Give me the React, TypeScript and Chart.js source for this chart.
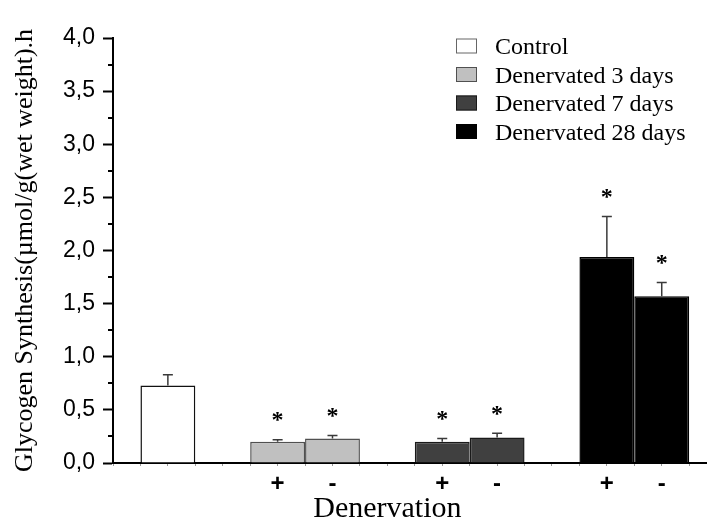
import React, { useEffect, useRef } from 'react';
import { Chart, registerables } from 'chart.js';

Chart.register(...registerables);

// ---- data ----
const seriesNames = ['Control', 'Denervated 3 days', 'Denervated 7 days', 'Denervated 28 days'];
const fillColors = ['#ffffff', '#c0c0c0', '#404040', '#000000'];
const edgeColors = ['#111111', '#505050', '#1a1a1a', '#000000'];

const controlPos = [2];
const controlMean = [0.73];
const controlErr = [0.1];
const controlSig = [false];

const den3Pos = [6, 8];
const den3Mean = [0.2, 0.23];
const den3Err = [0.02, 0.03];
const den3Sig = [true, true];

const den7Pos = [12, 14];
const den7Mean = [0.2, 0.24];
const den7Err = [0.03, 0.04];
const den7Sig = [true, true];

const den28Pos = [18, 20];
const den28Mean = [1.94, 1.57];
const den28Err = [0.38, 0.13];
const den28Sig = [true, true];

const xTickPos = [6, 8, 12, 14, 18, 20];
const xTickText = ['+', '-', '+', '-', '+', '-'];
const xTitle = 'Denervation';
const xTitleCenterValue = 10;
const yTitle = 'Glycogen Synthesis(µmol/g(wet weight).h';
const yMinorTicks = [0.25, 0.75, 1.25, 1.75, 2.25, 2.75, 3.25, 3.75];

const allPos = [controlPos, den3Pos, den7Pos, den28Pos];
const allMean = [controlMean, den3Mean, den7Mean, den28Mean];
const allErr = [controlErr, den3Err, den7Err, den28Err];
const allSig = [controlSig, den3Sig, den7Sig, den28Sig];

const errorBarPlugin = {
  id: 'errorBars',
  afterDatasetsDraw(chart: any) {
    const ctx = chart.ctx;
    const yScale = chart.scales.y;
    chart.data.datasets.forEach((_ds: any, di: number) => {
      const meta = chart.getDatasetMeta(di);
      meta.data.forEach((bar: any, i: number) => {
        const top = yScale.getPixelForValue(allMean[di][i] + allErr[di][i]);
        ctx.save();
        ctx.strokeStyle = '#3a3a3a';
        ctx.lineWidth = 1.5;
        ctx.beginPath();
        ctx.moveTo(bar.x, bar.y);
        ctx.lineTo(bar.x, top);
        ctx.moveTo(bar.x - 5, top);
        ctx.lineTo(bar.x + 5, top);
        ctx.stroke();
        if (allSig[di][i]) {
          ctx.fillStyle = '#000';
          ctx.font = 'bold 24px "Liberation Serif"';
          ctx.textAlign = 'center';
          ctx.textBaseline = 'alphabetic';
          ctx.fillText('*', bar.x, top - 24.5 + 12);
        }
        ctx.restore();
      });
    });
  },
};

const decorPlugin = {
  id: 'decor',
  afterDraw(chart: any) {
    const ctx = chart.ctx;
    const { chartArea } = chart;
    const yScale = chart.scales.y;
    const xScale = chart.scales.x;
    ctx.save();
    // minor y ticks
    ctx.strokeStyle = '#000';
    ctx.lineWidth = 2;
    yMinorTicks.forEach((v) => {
      const y = Math.round(yScale.getPixelForValue(v));
      ctx.beginPath();
      ctx.moveTo(chartArea.left - 5, y);
      ctx.lineTo(chartArea.left, y);
      ctx.stroke();
    });
    // x title
    ctx.fillStyle = '#000';
    ctx.font = '30px "Liberation Serif"';
    ctx.textAlign = 'center';
    ctx.textBaseline = 'alphabetic';
    ctx.fillText(xTitle, xScale.getPixelForValue(xTitleCenterValue), chartArea.bottom + 54);
    // legend
    const x0 = chartArea.right - 251;
    chart.data.datasets.forEach((ds: any, i: number) => {
      const cy = chartArea.top + 8 + i * 28.5;
      ctx.fillStyle = ds.backgroundColor;
      ctx.fillRect(x0, cy - 7.5, 21, 15);
      ctx.strokeStyle = i === 0 ? '#666' : ds.borderColor;
      ctx.lineWidth = 1;
      ctx.strokeRect(x0 + 0.5, cy - 7.5 + 0.5, 20, 14);
      ctx.fillStyle = '#000';
      ctx.font = '24px "Liberation Serif"';
      ctx.textAlign = 'left';
      ctx.fillText(ds.label, x0 + 39, cy + 8);
    });
    ctx.restore();
  },
};

export default function App() {
  const ref = useRef<HTMLCanvasElement | null>(null);
  useEffect(() => {
    document.body.style.margin = '0';
    const canvas = ref.current;
    if (!canvas) return;
    const chart = new Chart(canvas, {
      type: 'bar',
      data: {
        datasets: seriesNames.map((name, di) => ({
          label: name,
          data: allPos[di].map((x, i) => ({ x, y: allMean[di][i] })),
          backgroundColor: fillColors[di],
          borderColor: edgeColors[di],
          borderWidth: 1.5,
          grouped: false,
          categoryPercentage: 1,
          barPercentage: 2,
        })),
      },
      options: {
        animation: false,
        responsive: true,
        maintainAspectRatio: false,
        layout: { padding: { top: 38, left: 0, right: 0, bottom: 0 } },
        plugins: { legend: { display: false }, tooltip: { enabled: false } },
        scales: {
          x: {
            type: 'linear',
            min: 0,
            max: 21.65,
            offset: false,
            ticks: {
              stepSize: 1,
              includeBounds: false,
              autoSkip: false,
              maxRotation: 0,
              padding: 4,
              color: '#000',
              font: { family: 'Liberation Sans', size: 24, weight: 'bold' },
              callback: (v: any) => {
                const k = xTickPos.indexOf(Number(v));
                return k >= 0 ? xTickText[k] : '';
              },
            },
            grid: { drawOnChartArea: false, offset: false, tickLength: 3, tickColor: '#999', tickWidth: 1 },
            border: { color: '#000', width: 2 },
            afterFit: (s: any) => {
              s.height = 57;
            },
          },
          y: {
            type: 'linear',
            min: 0,
            max: 4,
            ticks: {
              stepSize: 0.5,
              padding: 8,
              color: '#000',
              font: { family: 'Liberation Sans', size: 23 },
              callback: (v: any) => Number(v).toFixed(1).replace('.', ','),
            },
            grid: { drawOnChartArea: false, tickLength: 10, tickColor: '#000', tickWidth: 2 },
            border: { color: '#000', width: 2 },
            title: {
              display: true,
              text: yTitle,
              color: '#000',
              font: { family: 'Liberation Serif', size: 26 },
              padding: { top: 10, bottom: 0 },
            },
            afterFit: (s: any) => {
              s.width = 113;
            },
          },
        },
      },
      plugins: [errorBarPlugin, decorPlugin],
    } as any);
    return () => chart.destroy();
  }, []);
  return (
    <div style={{ width: 707, height: 520, position: 'relative' }}>
      <canvas ref={ref} />
    </div>
  );
}
